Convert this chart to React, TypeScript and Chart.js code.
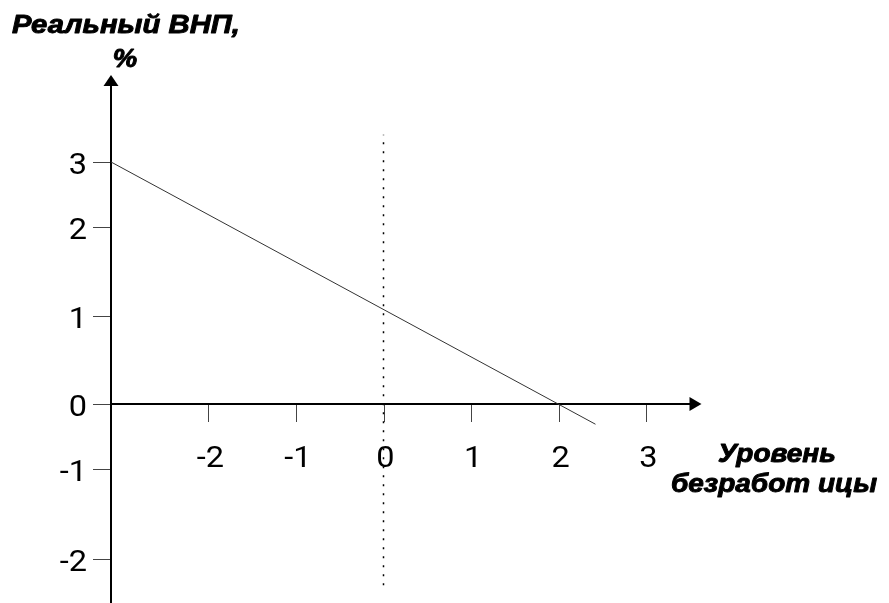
import React, { useEffect, useRef } from 'react';
import { Chart, registerables } from 'chart.js';

Chart.register(...registerables);

// ---- data ----
const xTickValues = [-2, -1, 0, 1, 2, 3];
const xTickLabels = ['-2', '-1', '0', '1', '2', '3'];
const yTickValues = [2.75, 2.01, 1, 0, -0.74, -1.76];
const yTickLabels = ['3', '2', '1', '0', '-1', '-2'];
const okunX = [-3.11, 2.42];
const okunY = [2.75, -0.23];
const zeroLineX = [0, 0];
const zeroLineY = [-2.06, 3.06];
const yAxisAt = -3.11;
const xAxisEnd = 3.63;
const yAxisTop = 3.74;
const yAxisBottom = -2.4;
const yTitle = ['Реальный ВНП,', '%'];
const xTitle = ['Уровень', 'безработ ицы'];

const W = 889;
const H = 603;

function drawText(ctx: CanvasRenderingContext2D, text: string, x: number, y: number, align: CanvasTextAlign, sx: number, stroke = 0) {
  ctx.save();
  ctx.translate(x, y);
  ctx.scale(sx, 1);
  ctx.textAlign = align;
  ctx.textBaseline = 'alphabetic';
  ctx.fillText(text, 0, 0);
  if (stroke > 0) {
    ctx.lineWidth = stroke;
    ctx.strokeStyle = '#000';
    ctx.lineJoin = 'round';
    ctx.strokeText(text, 0, 0);
  }
  ctx.restore();
}

const axesPlugin = {
  id: 'handAxes',
  beforeDatasetsDraw(chart: any) {
    const { ctx, scales } = chart;
    const sx = scales.x;
    const sy = scales.y;
    const px = (v: number) => sx.getPixelForValue(v);
    const py = (v: number) => sy.getPixelForValue(v);
    const ax = Math.round(px(yAxisAt));
    const ay = Math.round(py(0));
    ctx.save();
    // tick marks
    ctx.strokeStyle = '#444';
    ctx.lineWidth = 1;
    yTickValues.forEach((v) => {
      const yy = Math.round(py(v)) + 0.5;
      ctx.beginPath();
      ctx.moveTo(ax - 18, yy);
      ctx.lineTo(ax, yy);
      ctx.stroke();
    });
    xTickValues.forEach((v) => {
      const xx = Math.round(px(v)) + 0.5;
      ctx.beginPath();
      ctx.moveTo(xx, ay);
      ctx.lineTo(xx, ay + 18);
      ctx.stroke();
    });
    // axis lines
    ctx.strokeStyle = '#000';
    ctx.fillStyle = '#000';
    ctx.lineWidth = 2;
    const topY = py(yAxisTop);
    ctx.beginPath();
    ctx.moveTo(ax, py(yAxisBottom));
    ctx.lineTo(ax, topY + 8);
    ctx.stroke();
    ctx.beginPath();
    ctx.moveTo(ax, topY);
    ctx.lineTo(ax - 7.5, topY + 11);
    ctx.lineTo(ax + 7.5, topY + 11);
    ctx.closePath();
    ctx.fill();
    const endX = px(xAxisEnd);
    ctx.beginPath();
    ctx.moveTo(ax, ay);
    ctx.lineTo(endX - 8, ay);
    ctx.stroke();
    ctx.beginPath();
    ctx.moveTo(endX, ay);
    ctx.lineTo(endX - 12, ay - 7);
    ctx.lineTo(endX - 12, ay + 7);
    ctx.closePath();
    ctx.fill();
    // tick labels
    ctx.fillStyle = '#000';
    ctx.font = '29px Roboto';
    yTickValues.forEach((v, i) => {
      drawText(ctx, yTickLabels[i], ax - 24, py(v) + 12, 'right', 1.12);
    });
    xTickValues.forEach((v, i) => {
      drawText(ctx, xTickLabels[i], px(v) + 2, ay + 63, 'center', 1.12);
    });
    // titles
    ctx.font = 'italic bold 25px "Liberation Sans"';
    drawText(ctx, yTitle[0], 12, 33, 'left', 1.17, 0.9);
    drawText(ctx, yTitle[1], 125, 67, 'center', 1.1, 0.9);
    drawText(ctx, xTitle[0], 777, 462, 'center', 1.12, 0.9);
    drawText(ctx, xTitle[1], 774, 492, 'center', 1.12, 0.9);
    ctx.restore();
  },
};

export default function App() {
  const ref = useRef<HTMLCanvasElement>(null);
  useEffect(() => {
    if (!ref.current) return;
    const x0 = 383.5;
    const ux = 87.6;
    const y0 = 404;
    const uy = 88;
    const chart = new Chart(ref.current, {
      type: 'line',
      data: {
        datasets: [
          {
            data: okunX.map((x, i) => ({ x, y: okunY[i] })),
            borderColor: '#333',
            borderWidth: 1,
            pointRadius: 0,
            fill: false,
          },
          {
            data: zeroLineX.map((x, i) => ({ x, y: zeroLineY[i] })),
            borderColor: '#000',
            borderWidth: 1.5,
            borderDash: [2, 7],
            pointRadius: 0,
            fill: false,
          },
        ],
      },
      options: {
        responsive: false,
        animation: false,
        layout: { padding: 0 },
        plugins: { legend: { display: false }, tooltip: { enabled: false }, title: { display: false } },
        scales: {
          x: { type: 'linear', display: false, min: -x0 / ux, max: (W - x0) / ux },
          y: { type: 'linear', display: false, min: -(H - y0) / uy, max: y0 / uy },
        },
      },
      plugins: [axesPlugin],
    });
    return () => chart.destroy();
  }, []);
  return (
    <div style={{ position: 'fixed', left: 0, top: 0, width: W, height: H, background: '#fff' }}>
      <canvas ref={ref} width={W} height={H} style={{ display: 'block' }} />
    </div>
  );
}
